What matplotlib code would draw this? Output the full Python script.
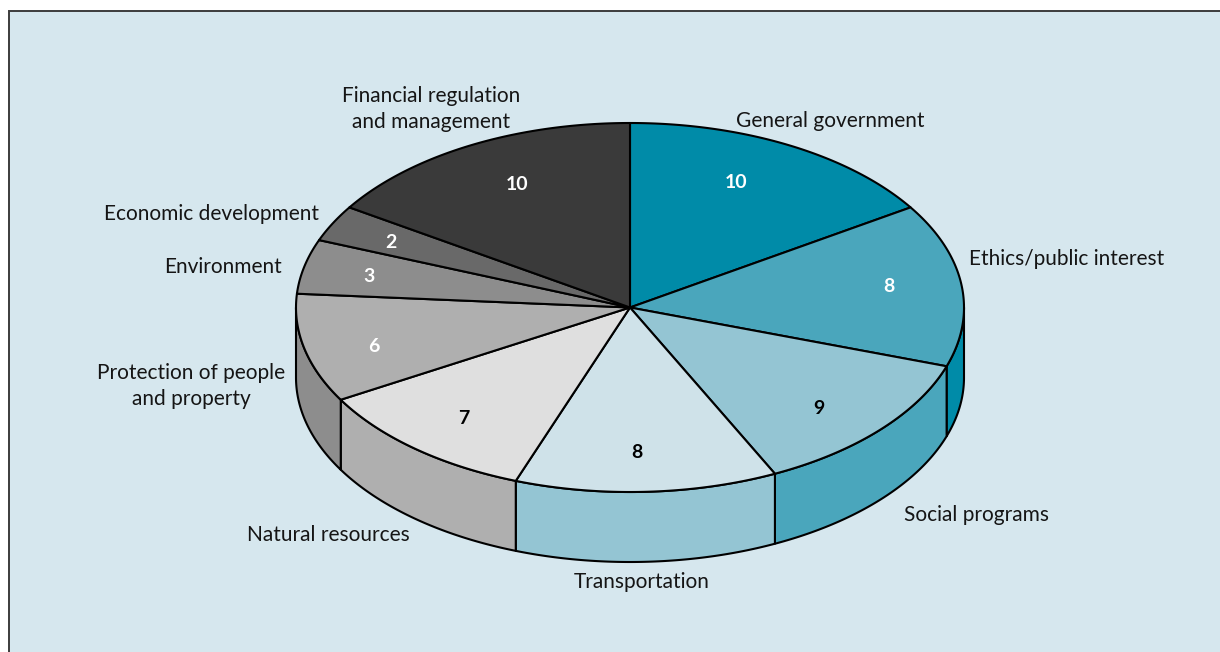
import numpy as np
import matplotlib
matplotlib.use("Agg")
import matplotlib.pyplot as plt
from matplotlib.patches import Polygon, Rectangle

# ---- data ----
categories = ["General government", "Ethics/public interest", "Social programs",
              "Transportation", "Natural resources",
              "Protection of people\nand property", "Environment",
              "Economic development", "Financial regulation\nand management"]
# numbers printed on the wedges
value_labels = [10, 8, 9, 8, 7, 6, 3, 2, 10]
# wedge sizes as actually drawn in the reference (Ethics and Social wedges
# are drawn with each other's size there)
slice_sizes = [10, 9, 8, 8, 7, 6, 3, 2, 10]

# ---- style ----
top_colors = ["#008ba8", "#4aa6bc", "#94c5d3", "#cfe2e9", "#dfdfdf",
              "#afafaf", "#8d8d8d", "#696969", "#3a3a3a"]
side_colors = ["#006f87", "#008ba8", "#4aa6bc", "#94c5d3", "#afafaf",
               "#8d8d8d", "#6a6a6a", "#4a4a4a", "#2a2a2a"]
num_colors = ["white", "white", "black", "black", "black",
              "white", "white", "white", "white"]
bg = "#d6e7ee"
FONT = ["Lato", "DejaVu Sans"]

# layout (pixel coordinates, y downwards)
cx, cy, rx, ry, depth = 630, 307.5, 334, 184.5, 70
num_pos = [(736, 183), (889, 287), (819, 408), (637, 452), (464, 418),
           (374, 346), (369, 276), (391, 243), (517, 185)]
lab_pos = [(830, 121), (1067, 259), (976, 515),
           (642, 582), (328, 535), (191, 386),
           (223, 267), (212, 214), (431, 109)]

fig = plt.figure(figsize=(12.2, 6.52), dpi=100)
fig.patch.set_facecolor("white")
ax = fig.add_axes([0, 0, 1, 1])
ax.set_xlim(0, 1220)
ax.set_ylim(652, 0)
ax.axis("off")

ax.add_patch(Rectangle((9, 11), 1300, 700, facecolor=bg, edgecolor="#3c3c3c",
                       lw=1.4, zorder=0))

def pt(theta_deg, dz=0.0):
    t = np.radians(theta_deg)
    return cx + rx * np.cos(t), cy - ry * np.sin(t) + dz

total = sum(slice_sizes)
bounds = [90.0]
for v in slice_sizes:
    bounds.append(bounds[-1] - 360.0 * v / total)

LW = 1.5
# side walls (visible front half: theta in [-180, 0])
for i in range(len(slice_sizes)):
    a0, a1 = bounds[i], bounds[i + 1]   # a0 > a1
    hi, lo = min(a0, 0.0), max(a1, -180.0)
    if hi <= lo:
        continue
    th = np.linspace(hi, lo, 80)
    topx, topy = pt(th)
    botx, boty = pt(th[::-1], depth)
    xs = np.concatenate([topx, botx])
    ys = np.concatenate([topy, boty])
    ax.add_patch(Polygon(np.column_stack([xs, ys]), closed=True,
                         facecolor=side_colors[i], edgecolor="black",
                         lw=LW, joinstyle="round", zorder=2))

# top slices
for i in range(len(slice_sizes)):
    a0, a1 = bounds[i], bounds[i + 1]
    th = np.linspace(a0, a1, 120)
    ex, ey = pt(th)
    xs = np.concatenate([[cx], ex])
    ys = np.concatenate([[cy], ey])
    ax.add_patch(Polygon(np.column_stack([xs, ys]), closed=True,
                         facecolor=top_colors[i], edgecolor="black",
                         lw=LW, joinstyle="round", zorder=3))

# value labels
for i, v in enumerate(value_labels):
    x, y = num_pos[i]
    ax.text(x, y, str(v), ha="center", va="center", fontsize=14,
            fontweight="bold", color=num_colors[i], family=FONT, zorder=5)

# category labels
for i, c in enumerate(categories):
    x, y = lab_pos[i]
    ax.text(x, y, c, ha="center", va="center", fontsize=15, color="#151515",
            family=FONT, linespacing=1.38, zorder=5)

fig.savefig("out.png", dpi=100, facecolor="white")
